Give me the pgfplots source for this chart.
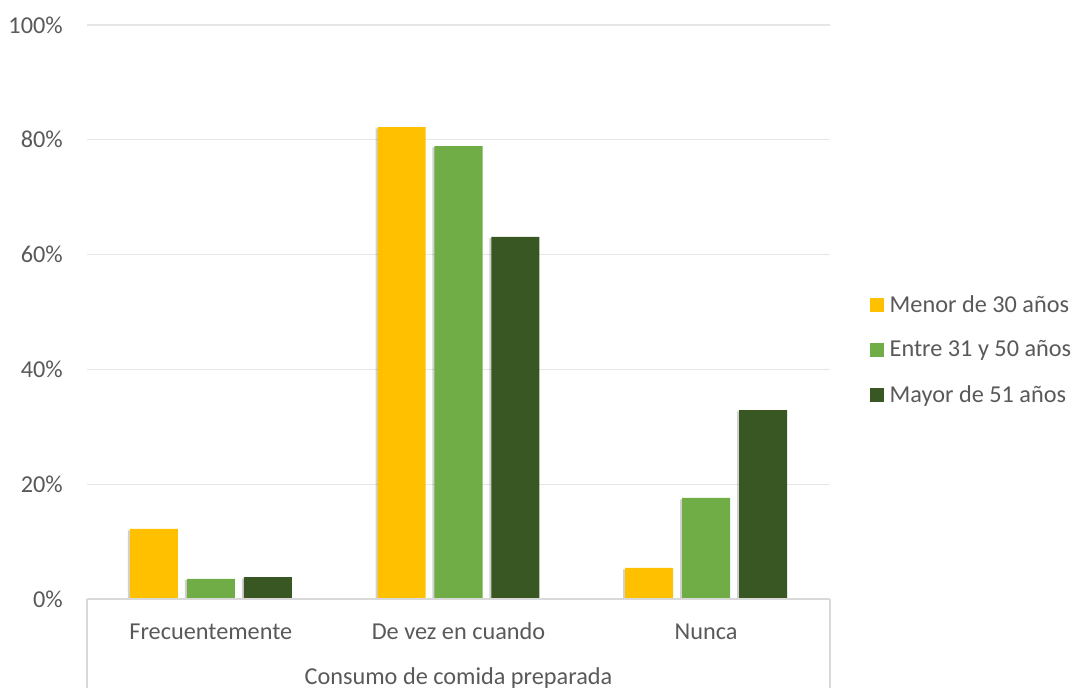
\documentclass[border=0pt]{standalone}
\usepackage{pgfplots}
\pgfplotsset{compat=1.18}
\usepackage{fontspec}
\setmainfont{Carlito}
\usetikzlibrary{shadows}
\definecolor{cyel}{HTML}{FFC000}
\definecolor{cgrn}{HTML}{70AD47}
\definecolor{cdrk}{HTML}{385723}
\definecolor{ctxt}{HTML}{595959}
\definecolor{cgrid}{HTML}{E6E6E6}
\definecolor{caxis}{HTML}{D9D9D9}
\begin{document}
\begin{tikzpicture}
\begin{axis}[
  at={(65.25pt,66.75pt)}, anchor=south west,
  scale only axis, width=557.25pt, height=430.5pt,
  xmin=-0.5, xmax=2.5, ymin=0, ymax=100,
  xtick={0,1,2},
  xticklabels={Frecuentemente, De vez en cuando, Nunca},
  ytick={0,20,40,60,80,100},
  yticklabel={\pgfmathprintnumber{\tick}\%},
  /pgf/number format/assume math mode=true,
  major tick length=0pt,
  ymajorgrids, grid style={cgrid, line width=0.9pt},
  axis line style={draw=none},
  font=\fontsize{18.2}{22}\selectfont,
  tick label style={text=ctxt, font=\fontsize{18.2}{22}\selectfont},
  yticklabel style={anchor=east, inner sep=0pt, xshift=-18pt},
  xticklabel style={anchor=base, inner sep=0pt, yshift=-30.5pt},
  xlabel={Consumo de comida preparada},
  xlabel style={at={(axis description cs:0.5,0)}, anchor=base, inner sep=0pt, yshift=-64.5pt, text=ctxt},
  ybar, bar width=0.194,
  legend style={at={(rel axis cs:1.054,0.434)}, anchor=west, draw=none, fill=none,
    text=ctxt, font=\fontsize{18.2}{22}\selectfont,
    row sep=16pt, inner sep=0pt, cells={anchor=west},
    /tikz/every even column/.append style={column sep=0pt}},
  legend image code/.code={\fill[#1] (0pt,-5.25pt) rectangle (10.5pt,5.25pt);},
  every axis plot/.append style={draw=none},
  after end axis/.code={
    \draw[caxis, line width=0.9pt] (rel axis cs:0,0) -- (rel axis cs:1,0);
    \draw[caxis, line width=0.9pt] (rel axis cs:0,0) -- ++(0,-80pt);
    \draw[caxis, line width=0.9pt] (rel axis cs:1,0) -- ++(0,-80pt);
  },
]
\addplot[forget plot, fill=cyel, bar shift=-0.23,
  general shadow={shadow xshift=-1.5pt, shadow yshift=-1pt, fill=black, opacity=0.18}]
  coordinates {(0,12.2) (1,82.2) (2,5.4)};
\addplot[forget plot, fill=cgrn, bar shift=0,
  general shadow={shadow xshift=-1.5pt, shadow yshift=-1pt, fill=black, opacity=0.18}]
  coordinates {(0,3.5) (1,78.9) (2,17.6)};
\addplot[forget plot, fill=cdrk, bar shift=0.23,
  general shadow={shadow xshift=-1.5pt, shadow yshift=-1pt, fill=black, opacity=0.18}]
  coordinates {(0,3.8) (1,63.1) (2,32.9)};
\addlegendimage{fill=cyel, draw=none}
\addlegendentry{\hspace{2pt}Menor de 30 años}
\addlegendimage{fill=cgrn, draw=none}
\addlegendentry{\hspace{2pt}Entre 31 y 50 años}
\addlegendimage{fill=cdrk, draw=none}
\addlegendentry{\hspace{2pt}Mayor de 51 años}
\end{axis}
\pgfresetboundingbox
\path[use as bounding box] (0,0) rectangle (804pt,516pt);
\end{tikzpicture}
\end{document}
